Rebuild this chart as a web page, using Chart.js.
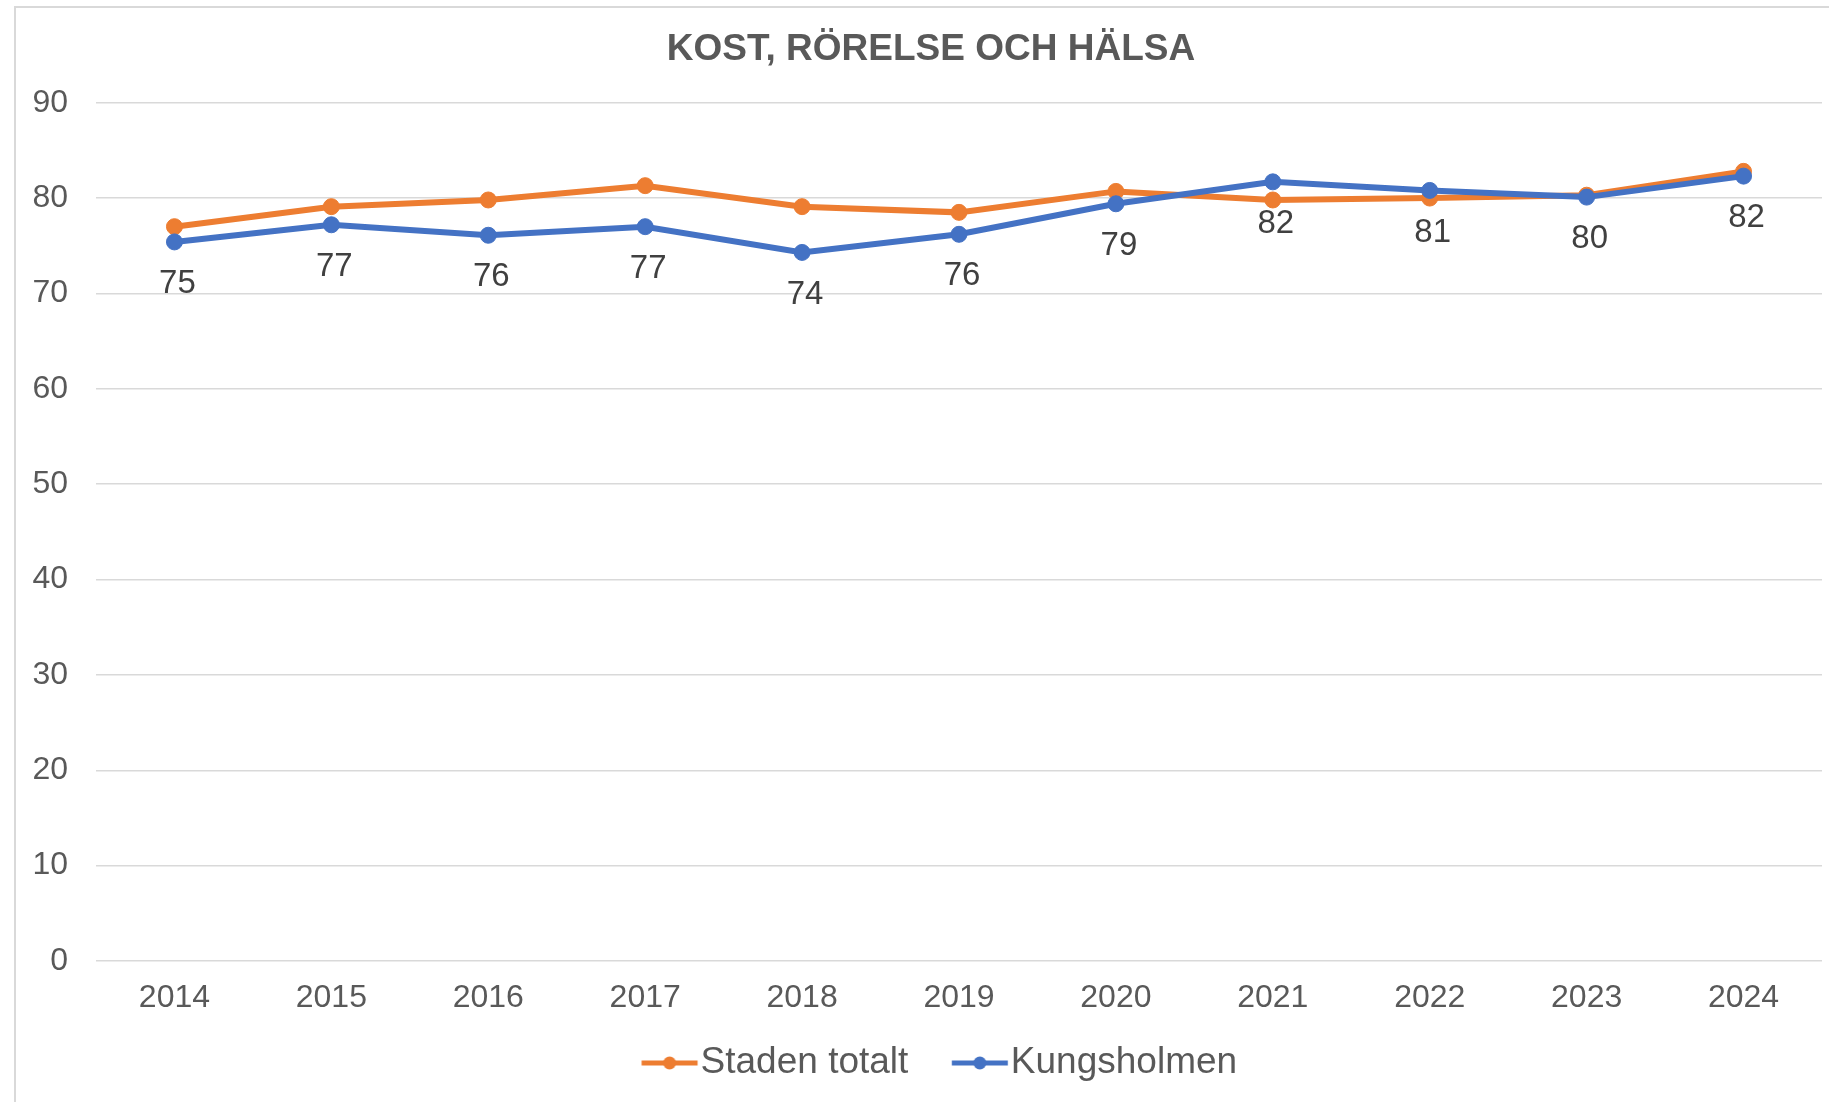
<!DOCTYPE html>
<html>
<head>
<meta charset="utf-8">
<title>Kost, rörelse och hälsa</title>
<script src="https://cdn.jsdelivr.net/npm/chart.js@4.4.1/dist/chart.umd.min.js"></script>
<style>
  html, body { margin: 0; padding: 0; background: #fff; overflow: hidden; }
  #frame { position: absolute; left: 14px; top: 6px; width: 2000px; height: 2000px; border: 2px solid #d9d9d9; }
  #chart { position: absolute; left: 0; top: 0; }
</style>
</head>
<body>
<div id="frame"></div>
<canvas id="chart" width="1862" height="1102"></canvas>
<script>
// data
const years = ["2014", "2015", "2016", "2017", "2018", "2019", "2020", "2021", "2022", "2023", "2024"];
const stadenTotalt = [77.0, 79.1, 79.8, 81.3, 79.1, 78.5, 80.7, 79.8, 80.0, 80.3, 82.8];
const kungsholmen = [75.4, 77.2, 76.1, 77.0, 74.3, 76.2, 79.4, 81.7, 80.8, 80.1, 82.3];
const yTicks = [0, 10, 20, 30, 40, 50, 60, 70, 80, 90];

const ORANGE = "#ED7D31";
const BLUE = "#4472C4";
const FONT = "'Liberation Sans', Arial, sans-serif";

// legend marker: short line with a dot, like the Excel legend
function makeMarker(color) {
  const c = document.createElement("canvas");
  c.width = 92;
  c.height = 20;
  const g = c.getContext("2d");
  g.strokeStyle = color;
  g.lineWidth = 5;
  g.beginPath();
  g.moveTo(34.1, 10);
  g.lineTo(90.1, 10);
  g.stroke();
  g.fillStyle = color;
  g.beginPath();
  g.arc(62.1, 10, 6.5, 0, Math.PI * 2);
  g.fill();
  return c;
}
const markers = [makeMarker(ORANGE), makeMarker(BLUE)];

// value labels under the Kungsholmen points
const valueLabels = {
  id: "valueLabels",
  afterDatasetsDraw(chart) {
    const ctx = chart.ctx;
    const meta = chart.getDatasetMeta(1);
    ctx.save();
    ctx.font = "33px " + FONT;
    ctx.fillStyle = "#404040";
    ctx.textAlign = "center";
    ctx.textBaseline = "middle";
    meta.data.forEach((pt, i) => {
      ctx.fillText(String(Math.round(kungsholmen[i])), pt.x + 3, pt.y + 42);
    });
    ctx.restore();
  }
};

const ctx = document.getElementById("chart").getContext("2d");
new Chart(ctx, {
  type: "line",
  data: {
    labels: years,
    datasets: [
      {
        label: "Staden totalt",
        data: stadenTotalt,
        borderColor: ORANGE,
        backgroundColor: ORANGE,
        borderWidth: 6,
        pointRadius: 8,
        pointBorderWidth: 1,
        tension: 0,
        order: 1
      },
      {
        label: "Kungsholmen",
        data: kungsholmen,
        borderColor: BLUE,
        backgroundColor: BLUE,
        borderWidth: 6,
        pointRadius: 8,
        pointBorderWidth: 1,
        tension: 0,
        order: 0
      }
    ]
  },
  options: {
    responsive: false,
    devicePixelRatio: 1,
    animation: false,
    layout: { padding: { left: 0, right: 0, top: 0, bottom: 10.5 } },
    scales: {
      x: {
        offset: true,
        grid: { display: false, drawTicks: true, tickLength: 18.3 },
        border: { display: false },
        ticks: {
          color: "#595959",
          font: { family: FONT, size: 32 },
          padding: 0,
          maxRotation: 0
        }
      },
      y: {
        min: 0,
        max: 90,
        afterBuildTicks(scale) {
          scale.ticks = yTicks.map((v) => ({ value: v }));
        },
        afterFit(scale) {
          scale.width = 96;
        },
        grid: { color: "#d9d9d9", lineWidth: 1.5, drawTicks: false },
        border: { display: false },
        ticks: {
          color: "#595959",
          font: { family: FONT, size: 32 },
          padding: 28
        }
      },
      // empty box on the right, the frame is cut off there
      yRight: {
        type: "linear",
        position: "right",
        grid: { display: false, drawTicks: false },
        border: { display: false },
        ticks: { display: false },
        afterFit(scale) {
          scale.width = 40;
        }
      }
    },
    plugins: {
      title: {
        display: true,
        text: "KOST, RÖRELSE OCH HÄLSA",
        color: "#595959",
        font: { family: FONT, size: 37, weight: "bold" },
        padding: { top: 28, bottom: 30.3 }
      },
      legend: {
        position: "bottom",
        labels: {
          usePointStyle: true,
          pointStyleWidth: 57.2,
          padding: 26.8,
          color: "#595959",
          font: { family: FONT, size: 37 },
          sort: (a, b) => a.datasetIndex - b.datasetIndex,
          generateLabels(chart) {
            const items = Chart.defaults.plugins.legend.labels.generateLabels(chart);
            items.forEach((it) => { it.pointStyle = markers[it.datasetIndex]; });
            return items;
          }
        }
      },
      tooltip: { enabled: false }
    }
  },
  plugins: [valueLabels]
});
</script>
</body>
</html>
